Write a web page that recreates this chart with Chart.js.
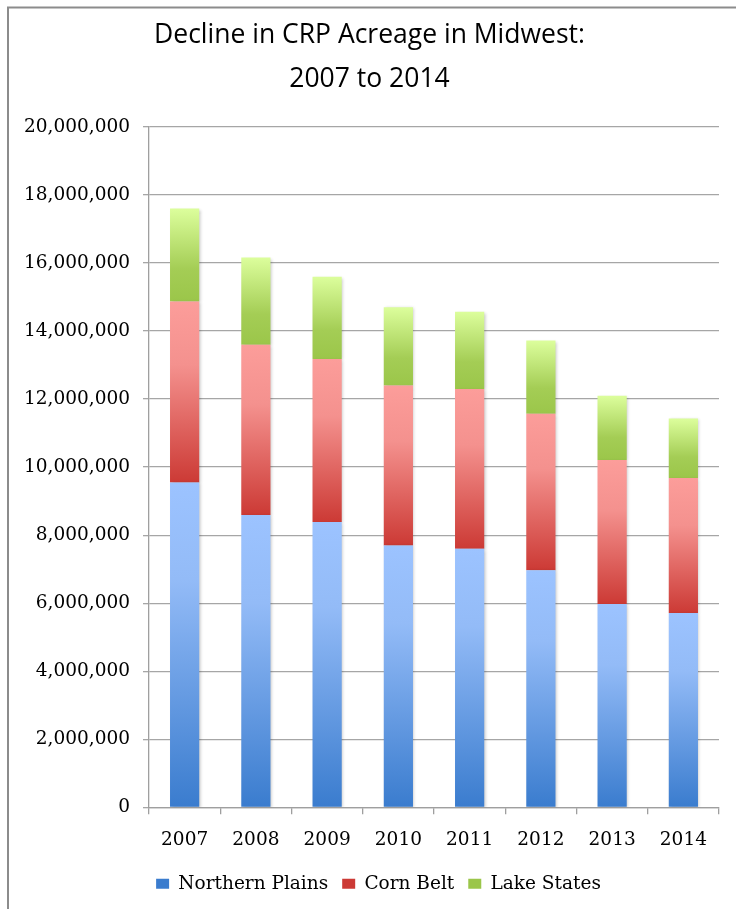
<!DOCTYPE html>
<html>
<head>
<meta charset="utf-8">
<script src="https://cdn.jsdelivr.net/npm/chart.js@4/dist/chart.umd.min.js"></script>
<style>
  html, body { margin: 0; padding: 0; background: #fff; }
  #wrap { position: relative; width: 736px; height: 909px; }
</style>
</head>
<body>
<div id="wrap"><canvas id="crpChart" width="736" height="909"></canvas></div>
<script>
const years = ['2007', '2008', '2009', '2010', '2011', '2012', '2013', '2014'];
const northernPlains = [9550000, 8590000, 8390000, 7700000, 7600000, 6970000, 5980000, 5710000];
const cornBelt = [5320000, 5010000, 4790000, 4700000, 4700000, 4600000, 4230000, 3970000];
const lakeStates = [2730000, 2560000, 2420000, 2300000, 2270000, 2150000, 1890000, 1750000];
const seriesNames = ['Northern Plains', 'Corn Belt', 'Lake States'];
const yTicks = [0, 2000000, 4000000, 6000000, 8000000, 10000000, 12000000, 14000000, 16000000, 18000000, 20000000];

const seriesData = [northernPlains, cornBelt, lakeStates];

// gradient stops per series, top of segment -> bottom
const gradStops = [
    [[0, '#9cc3ff'], [0.3, '#93bbf7'], [1, '#3a7cce']],
    [[0, '#fc9d9a'], [0.35, '#f4918e'], [1, '#cc3a35']],
    [[0, '#dcfe9c'], [0.65, '#a4cd55'], [1, '#9bc64a']]
];
const legendColors = ['#5d92e2', '#e06663', '#b9df72'];

function segmentFill(seriesIdx) {
    return function(ctx) {
        const chart = ctx.chart;
        if (ctx.type !== 'data' || !chart.chartArea || !chart.scales.y) {
            return legendColors[seriesIdx];
        }
        const i = ctx.dataIndex;
        let base = 0;
        for (let s = 0; s < seriesIdx; s++) base += seriesData[s][i];
        const top = base + seriesData[seriesIdx][i];
        const y = chart.scales.y;
        const g = chart.ctx.createLinearGradient(0, y.getPixelForValue(top), 0, y.getPixelForValue(base));
        gradStops[seriesIdx].forEach(st => g.addColorStop(st[0], st[1]));
        return g;
    };
}

// outer frame of the chart
const framePlugin = {
    id: 'frame',
    beforeDraw(chart) {
        const c = chart.ctx;
        c.save();
        c.fillStyle = '#fff';
        c.fillRect(0, 0, chart.width, chart.height);
        c.strokeStyle = '#8c8c8c';
        c.lineWidth = 2;
        c.strokeRect(8, 7.5, 900, 1000);
        c.restore();
    }
};

// soft shadow under bars
const shadowPlugin = {
    id: 'barShadow',
    beforeDatasetsDraw(chart) {
        const c = chart.ctx;
        c.save();
        c.shadowColor = 'rgba(0,0,0,0.22)';
        c.shadowBlur = 3;
        c.shadowOffsetX = 1.5;
        c.shadowOffsetY = 1;
    },
    afterDatasetsDraw(chart) {
        chart.ctx.restore();
    }
};

// nudge the legend a bit right and up, like the original
const legendNudge = {
    id: 'legendNudge',
    afterLayout(chart) {
        const lg = chart.legend;
        if (!lg) return;
        lg.left += 9; lg.right += 9;
        lg.top -= 6; lg.bottom -= 6;
    }
};

const serif = '"DejaVu Serif", serif';

new Chart(document.getElementById('crpChart'), {
    type: 'bar',
    data: {
        labels: years,
        datasets: seriesData.map((d, i) => ({
            label: seriesNames[i],
            data: d,
            backgroundColor: segmentFill(i),
            borderWidth: 0,
            barPercentage: 0.41,
            categoryPercentage: 1
        }))
    },
    options: {
        responsive: false,
        devicePixelRatio: 1,
        animation: false,
        layout: { padding: { left: 20, right: 17, top: 0, bottom: 0 } },
        plugins: {
            title: {
                display: true,
                text: ['Decline in CRP Acreage in Midwest:', '2007 to 2014'],
                color: '#000',
                font: { family: '"Open Sans", sans-serif', size: 26.5, weight: 'normal', lineHeight: 1.66 },
                padding: { top: 13, bottom: 26 }
            },
            legend: {
                position: 'bottom',
                labels: {
                    color: '#000',
                    font: { family: serif, size: 18.5 },
                    boxWidth: 13,
                    boxHeight: 10,
                    padding: 14
                }
            },
            tooltip: { enabled: false }
        },
        scales: {
            x: {
                stacked: true,
                offset: true,
                grid: {
                    offset: true,
                    drawOnChartArea: false,
                    drawTicks: true,
                    tickLength: 7,
                    color: '#9f9f9f',
                    lineWidth: 1.3
                },
                border: { display: true, color: '#9f9f9f', width: 1.3 },
                ticks: {
                    color: '#000',
                    font: { family: serif, size: 18.5 },
                    padding: 15,
                    maxRotation: 0
                }
            },
            y: {
                stacked: true,
                min: 0,
                max: 20000000,
                afterBuildTicks(scale) {
                    scale.ticks = yTicks.map(v => ({ value: v }));
                },
                afterFit(scale) {
                    scale.width = 129;
                },
                grid: {
                    color: '#a6a6a6',
                    lineWidth: 1.3,
                    drawTicks: true,
                    tickLength: 6
                },
                border: { display: true, color: '#9f9f9f', width: 1.3 },
                ticks: {
                    color: '#000',
                    font: { family: serif, size: 18.5 },
                    padding: 13,
                    callback: v => Number(v).toLocaleString('en-US')
                }
            }
        }
    },
    plugins: [framePlugin, shadowPlugin, legendNudge]
});
</script>
</body>
</html>
